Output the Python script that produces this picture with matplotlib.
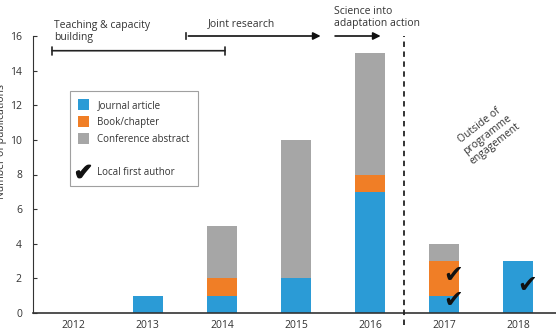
import matplotlib
matplotlib.use("Agg")
import matplotlib.pyplot as plt
from matplotlib.patches import Patch
from matplotlib.lines import Line2D
import numpy as np

plt.rcParams['font.family'] = ['Open Sans', 'DejaVu Sans']

years = ['2012', '2013', '2014', '2015', '2016', '2017', '2018']
journal = [0, 1, 1, 2, 7, 1, 3]
book = [0, 0, 1, 0, 1, 2, 0]
conference = [0, 0, 3, 8, 7, 1, 0]
check_years = ['2017', '2017', '2018']
check_values = [2.2, 0.75, 1.6]

c_blue = '#2B9BD6'
c_orange = '#F07E26'
c_grey = '#A6A6A6'

fig = plt.figure(figsize=(5.56, 3.34), dpi=100)
ax = fig.add_axes([33/556, 21/334, 523/556, 277/334])

x = np.arange(len(years))
w = 0.41
j = np.array(journal); b = np.array(book); c = np.array(conference)
ax.bar(x, j, w, color=c_blue, zorder=2)
ax.bar(x, b, w, bottom=j, color=c_orange, zorder=2)
ax.bar(x, c, w, bottom=j + b, color=c_grey, zorder=2)

for yr, v in zip(check_years, check_values):
    xi = years.index(yr)
    ax.text(xi + 0.12, v, '✔', family='DejaVu Sans', fontsize=17, ha='center', va='center', color='#111111', zorder=3)

ax.set_xlim(-0.55, 6.51)
ax.set_ylim(0, 16)
ax.set_yticks(range(0, 17, 2))
ax.set_xticks(x)
ax.set_xticklabels(years)
ax.tick_params(axis='y', direction='in', length=3, labelsize=7.5, colors='#333333', pad=8)
ax.tick_params(axis='x', length=0, labelsize=7.5, colors='#333333', pad=5)
for s in ['top', 'right']:
    ax.spines[s].set_visible(False)
ax.spines['left'].set_color('#333333')
ax.spines['bottom'].set_color('#333333')
ax.spines['bottom'].set_linewidth(1.2)
ax.set_ylabel('Number of publications', fontsize=7.5, color='#333333', labelpad=4)
ax.yaxis.set_label_coords(-0.05, 0.62)

# dashed separator
ax.plot([4.46, 4.46], [-0.7, 16], ls=(0, (3, 2.5)), color='#222222', lw=1.3, clip_on=False, zorder=3)

# phase annotations
ax.annotate('', xy=(-0.33, 15.15), xytext=(2.08, 15.15),
            arrowprops=dict(arrowstyle='|-|', color='#222222', lw=1.2, mutation_scale=3), annotation_clip=False)
ax.text(-0.26, 15.6, 'Teaching & capacity\nbuilding', fontsize=7.5, color='#333333', ha='left', va='bottom', linespacing=1.1)

ax.annotate('', xy=(3.37, 16.0), xytext=(1.51, 16.0),
            arrowprops=dict(arrowstyle='-|>', color='#111111', lw=1.2, mutation_scale=11), annotation_clip=False)
ax.plot([1.51, 1.51], [15.8, 16.2], color='#222222', lw=1.2, clip_on=False)
ax.text(2.26, 16.4, 'Joint research', fontsize=7.5, color='#333333', ha='center', va='bottom')

ax.annotate('', xy=(4.18, 16.0), xytext=(3.49, 16.0),
            arrowprops=dict(arrowstyle='-|>', color='#111111', lw=1.2, mutation_scale=11), annotation_clip=False)
ax.text(3.51, 16.4, 'Science into\nadaptation action', fontsize=7.5, color='#333333', ha='left', va='bottom', linespacing=1.1)

ax.text(5.58, 10.3, 'Outside of\nprogramme\nengagement', fontsize=7.5, color='#333333', ha='center', va='center',
        rotation=38, rotation_mode='anchor', linespacing=1.15, multialignment='center')

# legend
handles = [Patch(facecolor=c_blue), Patch(facecolor=c_orange), Patch(facecolor=c_grey),
           Patch(facecolor='none', edgecolor='none'),
           Line2D([], [], ls='none', marker=r'$✔$', markersize=10, color='#111111')]
labels = ['Journal article', 'Book/chapter', 'Conference abstract', '', 'Local first author']
leg = ax.legend(handles, labels, loc='upper left', bbox_to_anchor=(0.071, 0.80), borderaxespad=0,
                fontsize=7, frameon=True, fancybox=False, edgecolor='#888888', handlelength=1.1,
                handleheight=1.3, labelspacing=0.55, borderpad=0.8, handletextpad=0.9)
leg.get_frame().set_linewidth(0.8)
for t in leg.get_texts():
    t.set_color('#333333')

fig.text(0.0, 1.012, 'ITCAF', fontsize=11, fontweight='bold', ha='left', va='center', color='#222222')

fig.savefig('out.png', dpi=100)
